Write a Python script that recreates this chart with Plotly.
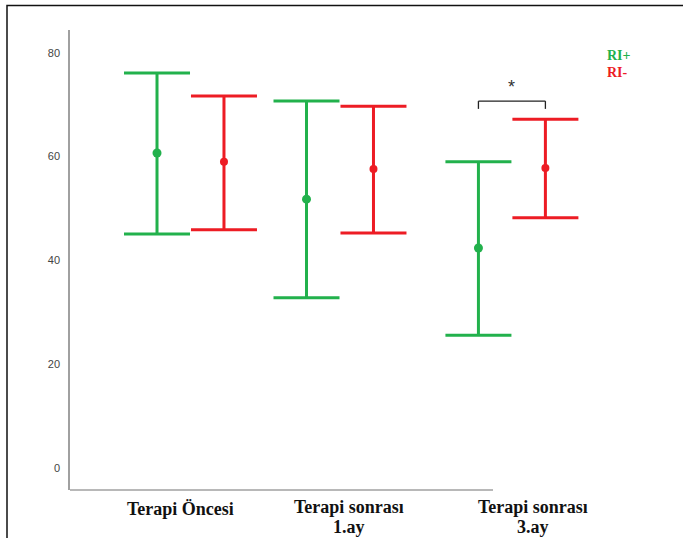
import plotly.graph_objects as go

categories = ["Terapi Öncesi", "Terapi sonrası<br>1.ay", "Terapi sonrası<br>3.ay"]
ri_pos_mean = [60.7, 51.8, 42.4]
ri_pos_upper = [76.1, 70.7, 59.0]
ri_pos_lower = [45.1, 32.8, 25.6]
ri_neg_mean = [59.0, 57.6, 57.8]
ri_neg_upper = [71.7, 69.7, 67.2]
ri_neg_lower = [45.9, 45.3, 48.2]
y_ticks = [0, 20, 40, 60, 80]

GREEN = "#22b14c"
RED = "#ed1c24"

group_pos = [0, 1, 2.15]
offset = 0.224
label_shift = [-0.064, 0.06, 0.14]
label_top_px = [497, 495, 495]   # page pixel of first label line top
LINE_GAP = 20

PL, PR, PT, PB = 70, 620, 30, 490  # plot area in page pixels


def px_to_paper_x(px):
    return (px - PL) / (PR - PL)


def px_to_paper_y(py):
    return (PB - py) / (PB - PT)


x_green = [g - offset for g in group_pos]
x_red = [g + offset for g in group_pos]

fig = go.Figure()
fig.add_trace(go.Scatter(
    x=x_green, y=ri_pos_mean, mode="markers", name="RI+",
    marker=dict(color=GREEN, size=9),
    error_y=dict(type="data", symmetric=False,
                 array=[u - m for u, m in zip(ri_pos_upper, ri_pos_mean)],
                 arrayminus=[m - l for m, l in zip(ri_pos_mean, ri_pos_lower)],
                 color=GREEN, thickness=3, width=33),
))
fig.add_trace(go.Scatter(
    x=x_red, y=ri_neg_mean, mode="markers", name="RI-",
    marker=dict(color=RED, size=8),
    error_y=dict(type="data", symmetric=False,
                 array=[u - m for u, m in zip(ri_neg_upper, ri_neg_mean)],
                 arrayminus=[m - l for m, l in zip(ri_neg_mean, ri_neg_lower)],
                 color=RED, thickness=3, width=33),
))

# significance bracket between RI+ and RI- at 3rd group
by = 70.7
for xa, xb, ya, yb in [(x_green[2], x_red[2], by, by),
                       (x_green[2], x_green[2], by, by - 1.5),
                       (x_red[2], x_red[2], by, by - 1.5)]:
    fig.add_shape(type="line", xref="x", yref="y", x0=xa, x1=xb, y0=ya, y1=yb,
                  line=dict(color="#222", width=1.3))
fig.add_annotation(x=group_pos[2], y=by + 0.4, xref="x", yref="y", text="*", showarrow=False,
                   yanchor="bottom", font=dict(family="Liberation Sans", size=18, color="#333"))

# x-axis line (shorter than plot area)
fig.add_shape(type="line", xref="paper", yref="paper", x0=0, x1=px_to_paper_x(493), y0=0, y1=0,
              line=dict(color="#a0a0a0", width=1.5))

# outer frame
fig.add_shape(type="rect", xref="paper", yref="paper",
              x0=px_to_paper_x(7), x1=px_to_paper_x(700), y0=px_to_paper_y(560), y1=px_to_paper_y(5.5),
              line=dict(color="#111", width=1.5))

# category labels
for g, s, lab, top in zip(group_pos, label_shift, categories, label_top_px):
    for i, line in enumerate(lab.split("<br>")):
        fig.add_annotation(x=g + s, y=px_to_paper_y(top + i * LINE_GAP), xref="x", yref="paper",
                           text="<b>" + line + "</b>", showarrow=False, yanchor="top",
                           font=dict(family="Liberation Serif", size=18, color="#111"))

# legend text
fig.add_annotation(x=px_to_paper_x(605), y=px_to_paper_y(55), xref="paper", yref="paper",
                   text="<b>RI+</b>", showarrow=False, xanchor="left", yanchor="middle",
                   font=dict(family="Liberation Serif", size=14, color=GREEN))
fig.add_annotation(x=px_to_paper_x(605), y=px_to_paper_y(72), xref="paper", yref="paper",
                   text="<b>RI-</b>", showarrow=False, xanchor="left", yanchor="middle",
                   font=dict(family="Liberation Serif", size=14, color=RED))

fig.update_layout(
    width=683, height=538,
    margin=dict(l=PL, r=683 - PR, t=PT, b=538 - PB),
    paper_bgcolor="white", plot_bgcolor="white",
    showlegend=False,
    xaxis=dict(range=[-0.806, 2.873], showgrid=False, zeroline=False, showline=False,
               showticklabels=False, ticks=""),
    yaxis=dict(range=[-4.24, 84.4], tickvals=y_ticks, showgrid=False, zeroline=False,
               showline=True, linecolor="#a0a0a0", linewidth=1.5, ticks="",
               ticklabelstandoff=6,
               tickfont=dict(family="Liberation Sans Narrow, Liberation Sans", size=11, color="#444")),
)

fig.write_html("out.html", config={"displayModeBar": False},
               post_script="document.body.style.margin='0';")
